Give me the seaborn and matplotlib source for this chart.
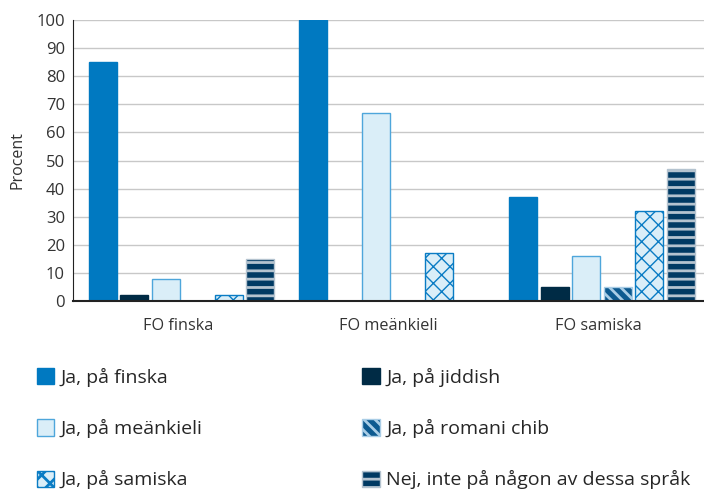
import numpy as np
import pandas as pd
import matplotlib
matplotlib.use("Agg")
import matplotlib.pyplot as plt
import seaborn as sns
from matplotlib.patches import Patch

groups = ["FO finska", "FO meänkieli", "FO samiska"]
answers = ["Ja, på finska", "Ja, på jiddish", "Ja, på meänkieli",
           "Ja, på romani chib", "Ja, på samiska", "Nej, inte på någon av dessa språk"]
finska = [85, 2, 8, 0, 2, 15]
meankieli = [100, 0, 67, 0, 17, 0]
samiska = [37, 5, 16, 5, 32, 47]

# fill, hatch/edge colour, hatch pattern
styles = [
    ("#0079c1", "#0079c1", ""),
    ("#002b45", "#002b45", ""),
    ("#daeef8", "#4ea6db", ""),
    ("#0d5a90", "#a9cde6", "\\\\\\"),
    ("#daeef8", "#0a7cc4", "xx"),
    ("#003a63", "#b4c3cf", "--"),
]

rows = []
for g, vals in zip(groups, [finska, meankieli, samiska]):
    for a, v in zip(answers, vals):
        rows.append({"grupp": g, "svar": a, "procent": v})
df = pd.DataFrame(rows)

sns.set_style("white")
plt.rcParams["font.family"] = ["Open Sans", "DejaVu Sans"]
plt.rcParams["hatch.linewidth"] = 2.0

fig, ax = plt.subplots(figsize=(7.04, 4.91), dpi=100)
fig.subplots_adjust(left=0.104, right=1.0, top=0.959, bottom=0.387)

sns.barplot(data=df, x="grupp", y="procent", hue="svar", hue_order=answers,
            order=groups, width=0.9, gap=0.12, legend=False, ax=ax)

bars = list(ax.patches)
n = len(groups)
for i, (fc, ec, h) in enumerate(styles):
    for p in bars[i * n:(i + 1) * n]:
        p.set_facecolor(fc)
        p.set_edgecolor(ec)
        p.set_hatch(h)
        p.set_linewidth(1.0)
        p.set_x(p.get_x() + 0.015)
        if h == "xx" and hasattr(p, "set_hatch_linewidth"):
            p.set_hatch_linewidth(1.0)
        if p.get_height() == 0:
            p.set_visible(False)

ax.set_ylim(0, 100)
ax.set_xlim(-0.5, 2.5)
ax.set_yticks(range(0, 101, 10))
ax.yaxis.grid(True, color="#c8c8c8", linewidth=1)
ax.set_axisbelow(True)
ax.set_xlabel("")
ax.set_ylabel("Procent", fontsize=11.5, color="#333333", labelpad=8)
ax.tick_params(axis="y", labelsize=12, colors="#333333", direction="in", length=5, width=1, pad=6)
ax.tick_params(axis="x", labelsize=11.7, colors="#333333", length=0, pad=12)
ax.set_xticks([0.5, 1.5, 2.5], minor=True)
ax.tick_params(axis="x", which="minor", length=6, width=1, direction="out", color="#222222")
sns.despine(ax=ax)
for s in ["left", "bottom"]:
    ax.spines[s].set_color("#222222")
ax.spines["bottom"].set_linewidth(1.5)

handles = []
for fc, ec, h in styles:
    handles.append(Patch(facecolor=fc, edgecolor=ec, hatch=h, linewidth=1))
order = [0, 2, 4, 1, 3, 5]
fig.legend([handles[i] for i in order], [answers[i] for i in order],
           loc="upper left", bbox_to_anchor=(0.027, 0.286), ncol=2, frameon=False,
           fontsize=14, labelspacing=1.65, columnspacing=8.2,
           handlelength=0.9, handleheight=0.9, handletextpad=0.35)

fig.savefig("out.png", dpi=100)
